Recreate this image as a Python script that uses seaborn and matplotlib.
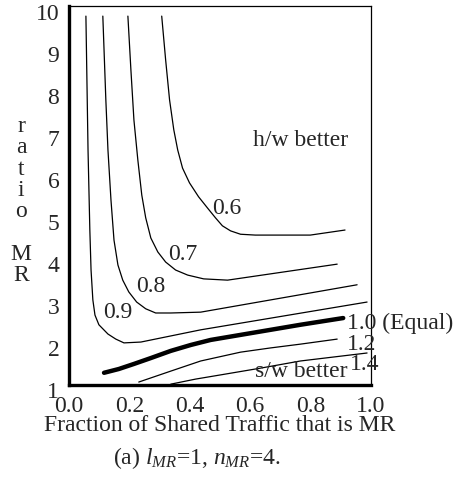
import matplotlib
matplotlib.use("Agg")
import matplotlib.pyplot as plt
import matplotlib.transforms as mtransforms
import seaborn as sns
import pandas as pd
from matplotlib.ticker import MultipleLocator

# Contour curves (x = fraction MR, y = MR ratio)
levels = ["0.6", "0.7", "0.8", "0.9", "1.0", "1.2", "1.4"]
x_06 = [0.307, 0.320, 0.333, 0.347, 0.360, 0.376, 0.399, 0.429, 0.459, 0.485,
        0.508, 0.535, 0.568, 0.617, 0.799, 0.914]
y_06 = [9.76, 8.72, 7.77, 7.06, 6.58, 6.15, 5.80, 5.47, 5.20, 4.97,
        4.78, 4.66, 4.58, 4.56, 4.56, 4.68]
x_07 = [0.195, 0.205, 0.215, 0.228, 0.241, 0.254, 0.271, 0.294, 0.320, 0.353,
        0.393, 0.446, 0.525, 0.888]
y_07 = [9.76, 8.48, 7.29, 6.34, 5.51, 4.97, 4.49, 4.16, 3.92, 3.73,
        3.61, 3.52, 3.49, 3.87]
x_08 = [0.112, 0.122, 0.129, 0.139, 0.149, 0.162, 0.178, 0.198, 0.224, 0.254,
        0.287, 0.337, 0.436, 0.954]
y_08 = [9.76, 7.77, 6.58, 5.39, 4.44, 3.85, 3.49, 3.21, 2.97, 2.81,
        2.71, 2.71, 2.73, 3.38]
x_09 = [0.056, 0.063, 0.069, 0.073, 0.079, 0.086, 0.099, 0.129, 0.155, 0.182,
        0.238, 0.436, 0.987]
y_09 = [9.76, 6.58, 4.68, 3.73, 3.02, 2.66, 2.43, 2.21, 2.09, 2.00,
        2.02, 2.31, 2.97]
x_10 = [0.116, 0.165, 0.215, 0.271, 0.337, 0.403, 0.469, 0.568, 0.667, 0.766, 0.908]
y_10 = [1.29, 1.38, 1.50, 1.64, 1.81, 1.95, 2.07, 2.19, 2.31, 2.43, 2.59]
x_12 = [0.231, 0.337, 0.436, 0.568, 0.667, 0.766, 0.888]
y_12 = [1.07, 1.33, 1.57, 1.78, 1.88, 1.97, 2.09]
x_14 = [0.337, 0.419, 0.502, 0.634, 0.766, 0.987]
y_14 = [1.02, 1.14, 1.24, 1.40, 1.57, 1.76]

xs = [x_06, x_07, x_08, x_09, x_10, x_12, x_14]
ys = [y_06, y_07, y_08, y_09, y_10, y_12, y_14]

rows = []
for lev, xv, yv in zip(levels, xs, ys):
    for i, (a, b) in enumerate(zip(xv, yv)):
        rows.append({"level": lev, "order": i, "x": a, "y": b})
df = pd.DataFrame(rows)

sns.set_style("white")
plt.rcParams["font.family"] = ["Liberation Serif", "DejaVu Serif"]
plt.rcParams["mathtext.fontset"] = "custom"
plt.rcParams["mathtext.rm"] = "Liberation Serif"
plt.rcParams["mathtext.it"] = "Liberation Serif:italic"
FS = 17

fig = plt.figure(figsize=(4.55, 4.78), dpi=100)
ax = fig.add_axes([69 / 455, 93 / 478, 302 / 455, 379 / 478])

for lev in levels:
    sub = df[df["level"] == lev]
    sns.lineplot(data=sub, x="x", y="y", sort=False, estimator=None, ax=ax,
                 color="black", lw=3.2 if lev == "1.0" else 0.9, legend=False)

ax.set_xlim(0, 1)
ax.set_ylim(1, 10)
ax.xaxis.set_major_locator(MultipleLocator(0.2))
ax.xaxis.set_minor_locator(MultipleLocator(0.1))
ax.yaxis.set_major_locator(MultipleLocator(1))
ax.set_xticklabels([f"{v:.1f}" for v in ax.get_xticks()])
ax.tick_params(axis="both", which="both", direction="out", length=3, width=2,
               color="black", labelsize=FS)
ax.tick_params(axis="x", pad=5)
ax.tick_params(axis="y", pad=4)
shift_up = mtransforms.ScaledTranslation(0, 2.5 / 100, fig.dpi_scale_trans)
for lab in ax.get_yticklabels():
    lab.set_va("top")
    lab.set_transform(lab.get_transform() + shift_up)
for s in ["left", "bottom"]:
    ax.spines[s].set_linewidth(2.4)
for s in ["top", "right"]:
    ax.spines[s].set_linewidth(0.9)
for s in ax.spines.values():
    s.set_color("black")

ax.set_xlabel("Fraction of Shared Traffic that is MR", fontsize=FS, labelpad=-1.5)
ax.set_ylabel("")

# contour labels and annotations
ax.text(0.924, 6.80, "h/w better", fontsize=FS, ha="right", va="center")
ax.text(0.475, 5.20, "0.6", fontsize=FS, ha="left", va="center")
ax.text(0.327, 4.09, "0.7", fontsize=FS, ha="left", va="center")
ax.text(0.221, 3.33, "0.8", fontsize=FS, ha="left", va="center")
ax.text(0.112, 2.73, "0.9", fontsize=FS, ha="left", va="center")
ax.text(0.921, 2.47, "1.0 (Equal)", fontsize=FS, ha="left", va="center", clip_on=False)
ax.text(0.921, 1.97, "1.2", fontsize=FS, ha="left", va="center", clip_on=False)
ax.text(0.931, 1.48, "1.4", fontsize=FS, ha="left", va="center", clip_on=False)
ax.text(0.921, 1.31, "s/w better", fontsize=FS, ha="right", va="center")

fig.text(21 / 455, 1 - 201 / 478, "r\na\nt\ni\no\n\nM\nR", fontsize=FS,
         ha="center", va="center", linespacing=1.02, multialignment="center")
fig.text(197 / 455, 1 - 458 / 478, r"(a) $l_{MR}$=1, $n_{MR}$=4.", fontsize=FS,
         ha="center", va="center")

fig.savefig("out.png", dpi=100)
